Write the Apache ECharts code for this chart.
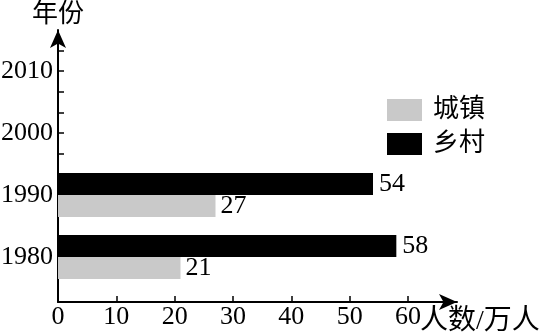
<!DOCTYPE html>
<html>
<head>
<meta charset="utf-8">
<script src="https://cdn.jsdelivr.net/npm/echarts@6/dist/echarts.min.js"></script>
<style>html,body{margin:0;padding:0;background:#fff;}#c{width:546px;height:334px;}</style>
</head>
<body>
<div id="c"></div>
<script>
// Data
const years = ['1980', '1990', '2000', '2010'];
const ruralValues = [58, 54, null, null];   // 乡村
const urbanValues = [21, 27, null, null];   // 城镇
const xTickValues = [0, 10, 20, 30, 40, 50, 60];
const yTickValues = [1996.67, 2000, 2003.33, 2006.67, 2010, 2013.33];
const seriesNames = ['乡村', '城镇'];
const legendOrder = ['城镇', '乡村'];

const FONT = "'Liberation Serif', 'Noto Sans CJK SC', serif";
const XMAX = 68.4;

const chart = echarts.init(document.getElementById('c'), null, {renderer: 'canvas'});
chart.setOption({
  animation: false,
  backgroundColor: '#fff',
  textStyle: {fontFamily: FONT, color: '#000'},
  grid: [
    {left: 58, right: 89, top: 30, bottom: 32, containLabel: false, outerBoundsMode: 'none'},   // frame (axes with arrows)
    {left: 58, right: 89, top: 40, bottom: 46, containLabel: false, outerBoundsMode: 'none'}    // bars
  ],
  legend: {
    orient: 'vertical',
    left: 387, top: 97, padding: 0,
    itemWidth: 35, itemHeight: 22, itemGap: 8,
    icon: 'rect',
    data: legendOrder,
    textStyle: {fontSize: 26, fontFamily: FONT, color: '#000', padding: [0, 0, 0, 6]}
  },
  xAxis: [
    {
      gridIndex: 0, type: 'value', min: 0, max: XMAX,
      name: '人数/万人', nameLocation: 'end', nameGap: -37, nameMoveOverlap: false,
      nameTextStyle: {fontSize: 28, fontFamily: FONT, color: '#000', verticalAlign: 'top', padding: [6, 0, 0, 0]},
      axisLine: {show: true, lineStyle: {color: '#000', width: 2}, symbol: ['none', 'arrow'], symbolSize: [12, 18]},
      axisTick: {show: true, inside: true, length: 6, lineStyle: {color: '#000', width: 1.5}, customValues: xTickValues},
      axisLabel: {show: true, fontSize: 26, fontFamily: FONT, color: '#000', margin: 2, customValues: xTickValues},
      splitLine: {show: false}
    },
    {
      gridIndex: 1, type: 'value', min: 0, max: XMAX,
      axisLine: {show: false}, axisTick: {show: false}, axisLabel: {show: false}, splitLine: {show: false}
    }
  ],
  yAxis: [
    {
      gridIndex: 0, type: 'value', min: 1972.74, max: 2016.61,
      name: '年份', nameLocation: 'end', nameGap: 2, nameMoveOverlap: false,
      nameTextStyle: {fontSize: 26, fontFamily: FONT, color: '#000'},
      axisLine: {show: true, lineStyle: {color: '#000', width: 2}, symbol: ['none', 'arrow'], symbolSize: [12, 18]},
      axisTick: {show: true, inside: true, length: 6, lineStyle: {color: '#000', width: 1.5}, customValues: yTickValues},
      axisLabel: {show: false},
      splitLine: {show: false}
    },
    {
      gridIndex: 1, type: 'category', data: years,
      axisLine: {show: false}, axisTick: {show: false},
      axisLabel: {show: true, fontSize: 26, fontFamily: FONT, color: '#000', margin: 5},
      splitLine: {show: false}
    }
  ],
  series: [
    {
      name: seriesNames[0], type: 'bar', xAxisIndex: 1, yAxisIndex: 1,
      data: ruralValues, barWidth: 22, barGap: '0%',
      itemStyle: {color: '#000'},
      label: {show: true, position: 'right', distance: 6, fontSize: 26, fontFamily: FONT, color: '#000'}
    },
    {
      name: seriesNames[1], type: 'bar', xAxisIndex: 1, yAxisIndex: 1,
      data: urbanValues, barWidth: 22, barGap: '0%',
      itemStyle: {color: '#c9c9c9'},
      label: {show: true, position: 'right', distance: 5, fontSize: 26, fontFamily: FONT, color: '#000'}
    }
  ]
});
</script>
</body>
</html>
